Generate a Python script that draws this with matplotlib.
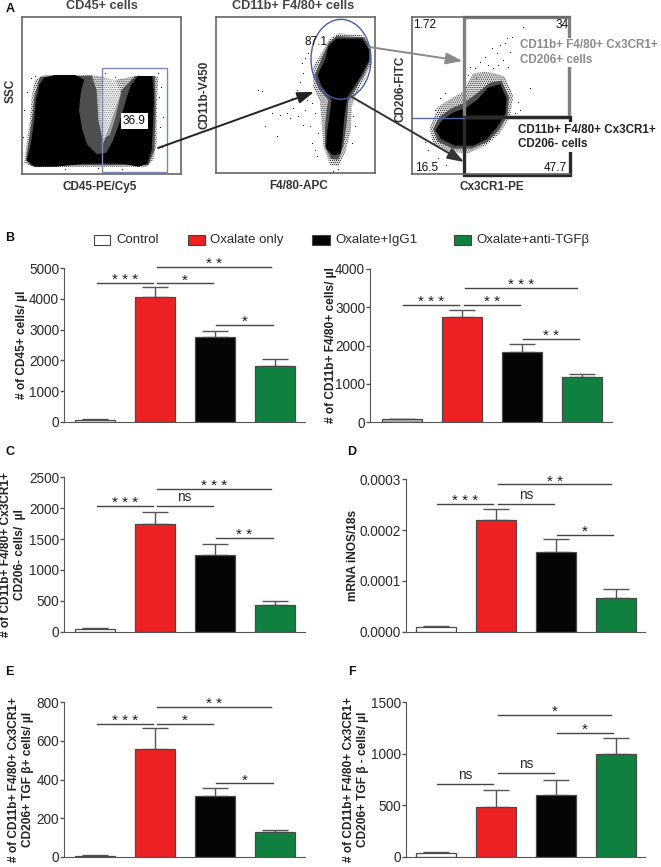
import matplotlib
matplotlib.use("Agg")
import matplotlib.pyplot as plt
import numpy as np
from matplotlib.patches import Ellipse, Polygon, Rectangle

plt.rcParams["font.family"] = ["Liberation Sans", "DejaVu Sans"]
plt.rcParams["hatch.linewidth"] = 0.4

W, H = 661, 867

groups = ["Control", "Oxalate only", "Oxalate+IgG1", "Oxalate+anti-TGF\u03b2"]
colors = ["#ffffff", "#ed2024", "#050505", "#0f8040"]
colors_b2 = ["#b4b4b4", "#ed2024", "#050505", "#0f8040"]

# bar heights and top of error bar
b1_vals = [70, 4070, 2770, 1820]
b1_tops = [90, 4390, 2970, 2040]
b2_vals = [70, 2740, 1840, 1170]
b2_tops = [80, 2930, 2040, 1250]
c_vals = [45, 1745, 1235, 430]
c_tops = [55, 1945, 1420, 495]
d_vals = [0.00001, 0.00022, 0.000157, 0.000067]
d_tops = [0.000012, 0.000241, 0.000182, 0.000085]
e_vals = [5, 557, 315, 128]
e_tops = [7, 665, 357, 140]
f_vals = [40, 485, 597, 1000]
f_tops = [50, 650, 748, 1155]

# brackets: x0, x1, y, label
b1_br = [(1.03, 1.96, 4510, "***"), (2.03, 2.96, 4510, "*"), (2.04, 3.93, 5054, "**"), (3.02, 3.96, 3150, "*")]
b2_br = [(1.03, 1.95, 3060, "***"), (2.04, 2.97, 3060, "**"), (2.06, 3.92, 3496, "***"), (3.02, 3.95, 2183, "**")]
c_br = [(1.03, 1.96, 2036, "***"), (2.03, 2.96, 2036, "ns"), (2.04, 3.93, 2306, "***"), (3.02, 3.96, 1512, "**")]
d_br = [(1.02, 1.95, 0.000251, "***"), (2.04, 2.97, 0.000251, "ns"), (2.04, 3.93, 0.00029, "**"), (3.03, 3.95, 0.000191, "*")]
e_br = [(1.03, 1.96, 688, "***"), (2.03, 2.96, 688, "*"), (2.04, 3.93, 776, "**"), (3.02, 3.96, 380, "*")]
f_br = [(1.02, 1.95, 710, "ns"), (2.04, 2.97, 810, "ns"), (2.04, 3.93, 1377, "*"), (3.03, 3.95, 1203, "*")]

# flow cytometry clouds, outlines (units: crop pixels)
p1_core = [(88, 205), (120, 197), (180, 197), (205, 210), (195, 250), (190, 300), (200, 360), (215, 405), (245, 435),
           (275, 430), (295, 395), (315, 340), (335, 270), (350, 225), (370, 200), (410, 200), (415, 260), (412, 340),
           (408, 420), (395, 460), (370, 468), (330, 460), (270, 458), (200, 460), (120, 468), (60, 468), (38, 450),
           (50, 400), (60, 330), (65, 270), (75, 225)]
p1_mid = [(75, 200), (230, 197), (245, 240), (250, 330), (265, 400), (290, 330), (320, 240), (360, 198), (420, 198),
          (422, 300), (418, 420), (400, 466), (200, 466), (48, 468), (33, 450), (42, 390), (52, 320), (58, 260)]
p1_halo = [(60, 210), (90, 195), (230, 195), (260, 200), (300, 210), (365, 197), (430, 200), (425, 300), (425, 400),
           (415, 450), (395, 470), (200, 470), (60, 472), (28, 460), (35, 400), (45, 330), (50, 260)]
p1_gap = [(262, 205), (300, 205), (318, 250), (302, 320), (285, 375), (265, 385), (255, 300)]
p1_dots = [(35, 245), (28, 300), (25, 380), (22, 430), (48, 205), (60, 198), (438, 230), (445, 320), (440, 410),
           (432, 260), (435, 350), (428, 190), (270, 190), (300, 200), (20, 460), (150, 478), (250, 475), (320, 478)]

p2_core = [(395, 88), (470, 88), (490, 120), (490, 150), (470, 190), (445, 230), (425, 262), (415, 330), (410, 390),
           (405, 430), (385, 435), (365, 415), (368, 370), (375, 320), (382, 270), (350, 225), (340, 195), (362, 150),
           (372, 110)]
p2_mid = [(395, 78), (478, 82), (496, 118), (495, 155), (475, 198), (450, 240), (430, 275), (425, 340), (415, 410),
          (400, 450), (378, 448), (360, 410), (360, 350), (365, 300), (370, 270), (340, 235), (330, 195), (352, 140),
          (372, 98)]
p2_halo = [(400, 70), (470, 75), (498, 110), (498, 160), (480, 205), (455, 250), (440, 290), (438, 360), (420, 430),
           (400, 470), (375, 465), (355, 410), (350, 340), (345, 275), (325, 235), (325, 170), (352, 125), (372, 88)]
p2_dots = [(160, 240), (170, 243), (290, 160), (300, 145), (295, 190), (285, 215), (275, 240), (310, 130), (265, 295),
           (245, 310), (225, 315), (200, 310), (180, 350), (215, 380), (280, 320), (300, 300), (315, 350), (320, 400),
           (330, 420), (295, 345), (335, 440), (440, 400), (450, 350), (445, 320), (400, 478), (385, 485), (305, 270),
           (320, 280), (330, 310), (340, 370), (260, 265), (255, 325)]

p3_core = [(250, 235), (285, 225), (303, 265), (300, 310), (275, 350), (245, 385), (205, 405), (150, 405), (110, 385),
           (95, 360), (115, 330), (145, 310), (185, 295), (220, 270)]
p3_mid = [(255, 218), (290, 212), (312, 262), (308, 315), (282, 360), (248, 396), (200, 416), (145, 416), (100, 395),
          (85, 358), (105, 320), (140, 295), (175, 280), (210, 255)]
p3_halo = [(270, 190), (300, 200), (325, 260), (315, 320), (285, 370), (245, 405), (190, 430), (130, 425), (85, 400),
           (75, 355), (100, 290), (140, 265), (175, 245), (205, 190), (240, 185)]
p3_dots = [(355, 50), (320, 80), (305, 85), (300, 100), (315, 125), (260, 115), (275, 130), (240, 140), (295, 150),
           (225, 155), (280, 165), (210, 175), (250, 165), (310, 170), (190, 195), (215, 205), (180, 215), (375, 235),
           (340, 275), (345, 300), (105, 265), (120, 250), (90, 300), (60, 395), (70, 420), (125, 465), (100, 445),
           (165, 445), (330, 310), (195, 170), (285, 105), (265, 175)]

fig = plt.figure(figsize=(W / 100, H / 100), dpi=100)

# overlay in pixel units for labels, arrows and legend
ov = fig.add_axes([0, 0, 1, 1], zorder=5)
ov.set_xlim(0, W)
ov.set_ylim(H, 0)
ov.axis("off")


def px_axes(x0, x1, ytop, ybot):
    return fig.add_axes([x0 / W, 1 - ybot / H, (x1 - x0) / W, (ybot - ytop) / H])


def flow_panel(box, crop, core, mid, halo, dots):
    ax = px_axes(*box)
    ax.set_xlim(crop[0], crop[1])
    ax.set_ylim(crop[3], crop[2])
    ax.set_xticks([])
    ax.set_yticks([])
    for s in ax.spines.values():
        s.set_color("#666666")
        s.set_linewidth(1.2)
    ax.add_patch(Polygon(halo, facecolor="#bdbdbd", edgecolor="none", alpha=0.5))
    ax.add_patch(Polygon(halo, facecolor="none", edgecolor="black", hatch="........", lw=0))
    ax.add_patch(Polygon(mid, facecolor="#4e4e4e", edgecolor="none"))
    ax.add_patch(Polygon(core, facecolor="black", edgecolor="black", lw=1))
    dots = np.array(dots)
    ax.scatter(dots[:, 0], dots[:, 1], s=0.7, color="black", lw=0)
    return ax


def bar_panel(box, xlim, vals, tops, yticks, ticklabels, brackets, ylabel, label_x, cols=colors):
    ax = px_axes(*box)
    pos = np.arange(1, 5)
    errs = np.array(tops) - np.array(vals)
    ax.bar(pos, vals, width=0.667, color=cols, edgecolor="#4a4a4a", linewidth=0.9, zorder=2)
    ax.errorbar(pos, vals, yerr=[np.zeros(4), errs], fmt="none", ecolor="#555555", elinewidth=1,
                capsize=9.5, capthick=1, zorder=1)
    ax.set_xlim(*xlim)
    ax.set_ylim(yticks[0], yticks[-1])
    ax.set_xticks([])
    ax.set_yticks(yticks, ticklabels)
    ax.tick_params(axis="y", length=3, width=1, color="#555555", labelsize=9.8, labelcolor="#2a2a2a", pad=0.5)
    ax.spines["top"].set_visible(False)
    ax.spines["right"].set_visible(False)
    ax.spines["left"].set_color("#555555")
    ax.spines["bottom"].set_color("#555555")
    for x0, x1, y, lab in brackets:
        ax.plot([x0, x1], [y, y], color="#444444", lw=1, clip_on=False, zorder=3)
        if lab == "ns":
            ax.annotate(lab, ((x0 + x1) / 2, y), xytext=(0, 1.5), textcoords="offset points", ha="center",
                        va="bottom", fontsize=9.8, color="#2a2a2a", annotation_clip=False)
        else:
            ax.annotate(" ".join(lab), ((x0 + x1) / 2, y), xytext=(0, -3), textcoords="offset points", ha="center",
                        va="bottom", fontsize=11, color="#1a1a1a", annotation_clip=False)
    ax.set_ylabel(ylabel, fontsize=8.6, fontweight="bold", color="#222222", linespacing=1.25)
    ax.yaxis.set_label_coords(label_x, 0.5)
    return ax


# panel A
a1 = flow_panel((22.3, 181, 16.7, 174), (22, 498, 20, 492), p1_core, p1_mid, p1_halo, p1_dots)
a1.add_patch(Polygon(p1_gap, facecolor="white", edgecolor="none", alpha=0.45))
a1.add_patch(Rectangle((260, 173), 197, 314, fill=False, edgecolor="#7f86b8", lw=1))
a1.text(358, 333, "36.9", ha="center", va="center", fontsize=8.5, color="#111111",
        bbox=dict(facecolor="white", edgecolor="none", pad=1.5))

a2 = flow_panel((216, 375, 16.7, 173), (33, 510, 20, 490), p2_core, p2_mid, p2_halo, p2_dots)
a2.add_patch(Ellipse((408, 148), 180, 240, fill=False, edgecolor="#4a5aa8", lw=1))
a2.text(333, 97, "87.1", ha="center", va="center", fontsize=8.5, color="#111111")

a3 = flow_panel((412, 570, 16.7, 174), (22, 495, 20, 492), p3_core, p3_mid, p3_halo, p3_dots)
a3.spines["right"].set_visible(False)
a3.plot([22, 178], [325, 325], color="#5a64a8", lw=1)
a3.add_patch(Rectangle((178, 20), 315, 302, fill=False, edgecolor="#808080", lw=2.4, clip_on=False))
a3.add_patch(Rectangle((178, 322), 317, 173, fill=False, edgecolor="#2a2a2a", lw=2.4, clip_on=False))
a3.text(60, 45, "1.72", ha="center", va="center", fontsize=8.5, color="#111111")
a3.text(470, 45, "34", ha="center", va="center", fontsize=8.5, color="#111111")
a3.text(65, 473, "16.5", ha="center", va="center", fontsize=8.5, color="#111111")
a3.text(450, 473, "47.7", ha="center", va="center", fontsize=8.5, color="#111111")

ov.text(102.4, 6, "CD45+ cells", ha="center", va="center", fontsize=9.2, fontweight="bold", color="#444444")
ov.text(293, 6, "CD11b+ F4/80+ cells", ha="center", va="center", fontsize=9.2, fontweight="bold", color="#444444")
ov.text(99.5, 187, "CD45-PE/Cy5", ha="center", va="center", fontsize=8.5, fontweight="bold", color="#333333")
ov.text(298.5, 186, "F4/80-APC", ha="center", va="center", fontsize=8.5, fontweight="bold", color="#333333")
ov.text(492, 187, "Cx3CR1-PE", ha="center", va="center", fontsize=8.5, fontweight="bold", color="#333333")
ov.text(10.5, 91, "SSC", ha="center", va="center", rotation=90, fontsize=8.5, fontweight="bold", color="#333333")
ov.text(205, 95, "CD11b-V450", ha="center", va="center", rotation=90, fontsize=8.5, fontweight="bold", color="#333333")
ov.text(400.5, 89, "CD206-FITC", ha="center", va="center", rotation=90, fontsize=8.5, fontweight="bold", color="#333333")
ov.text(520.5, 52.5, "CD11b+ F4/80+ Cx3CR1+\nCD206+ cells", ha="left", va="center", fontsize=8.4,
        fontweight="bold", color="#8a8a8a", linespacing=1.3,
        bbox=dict(facecolor="white", edgecolor="none", pad=1))
ov.text(518, 137, "CD11b+ F4/80+ Cx3CR1+\nCD206- cells", ha="left", va="center", fontsize=8.4,
        fontweight="bold", color="#222222", linespacing=1.3,
        bbox=dict(facecolor="white", edgecolor="none", pad=1))

arrows = [((158, 148), (314, 92), "#222222"), ((352, 97), (464, 162), "#333333"), ((369, 47), (462.5, 61), "#8a8a8a")]
for start, end, col in arrows:
    ov.annotate("", xy=end, xytext=start,
                arrowprops=dict(arrowstyle="-|>,head_width=0.35,head_length=1.0", color=col, lw=1.4,
                                shrinkA=0, shrinkB=0))

# legend
swatches = [(94.4, 15.5, 116), (187.6, 17, 210), (312, 17.5, 335), (453.6, 17, 476.4)]
for (sx, sw, tx), col, name in zip(swatches, colors, groups):
    ov.add_patch(Rectangle((sx, 235), sw, 9.8, facecolor=col, edgecolor="#444444", lw=0.8))
    ov.text(tx, 240, name, ha="left", va="center", fontsize=9.5, color="#2a2a2a")

# bar panels
bar_panel((64, 305, 268.3, 421.7), (0.483, 4.5), b1_vals, b1_tops, [0, 1000, 2000, 3000, 4000, 5000],
          ["0", "1000", "2000", "3000", "4000", "5000"], b1_br, "# of CD45+ cells/ \u00b5l", -0.15)
bar_panel((370, 612, 269, 422), (0.473, 4.505), b2_vals, b2_tops, [0, 1000, 2000, 3000, 4000],
          ["0", "1000", "2000", "3000", "4000"], b2_br, "# of CD11b+ F4/80+ cells/ \u00b5l", -0.138, colors_b2)
bar_panel((64, 305, 477.3, 631.7), (0.483, 4.5), c_vals, c_tops, [0, 500, 1000, 1500, 2000, 2500],
          ["0", "500", "1000", "1500", "2000", "2500"], c_br, "# of CD11b+ F4/80+ Cx3CR1+\nCD206- cells/  \u00b5l", -0.156)
bar_panel((406, 645, 479.3, 631.7), (0.505, 4.49), d_vals, d_tops, [0, 0.0001, 0.0002, 0.0003],
          ["0.0000", "0.0001", "0.0002", "0.0003"], d_br, "mRNA iNOS/18s", -0.195)
bar_panel((64, 305, 702.3, 856.7), (0.483, 4.5), e_vals, e_tops, [0, 200, 400, 600, 800],
          ["0", "200", "400", "600", "800"], e_br, "# of CD11b+ F4/80+ Cx3CR1+\nCD206+ TGF \u03b2+ cells/ \u00b5l", -0.124)
bar_panel((406, 645, 702.3, 857), (0.505, 4.49), f_vals, f_tops, [0, 500, 1000, 1500],
          ["0", "500", "1000", "1500"], f_br, "# of CD11b+ F4/80+ Cx3CR1+\nCD206+ TGF \u03b2 - cells/ \u00b5l", -0.155)

for lab, x, y in [("A", 10.5, 9), ("B", 9.3, 238), ("C", 10.5, 452), ("D", 352, 452), ("E", 9.3, 672), ("F", 352, 672)]:
    ov.text(x, y, lab, ha="center", va="center", fontsize=9, fontweight="bold", color="#111111")

fig.savefig("out.png", dpi=100)
